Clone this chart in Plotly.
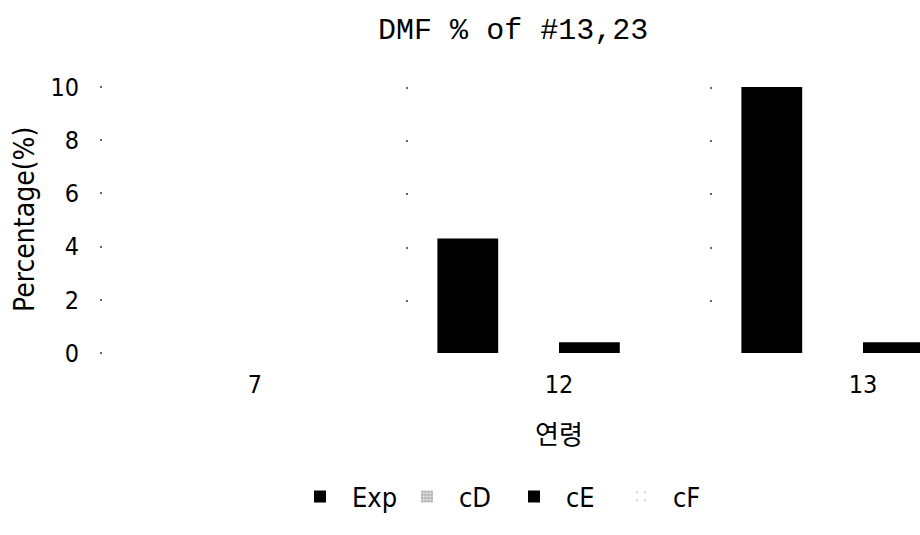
import plotly.graph_objects as go

# Age groups (연령) and DMF percentages per series (None = no bar drawn)
ages = ["7", "12", "13"]
exp_vals = [None, 4.3, 10.0]
cd_vals = [None, None, None]
ce_vals = [None, 0.4, 0.4]
cf_vals = [None, None, None]
y_ticks = [0, 2, 4, 6, 8, 10]

pos = list(range(len(ages)))
boundaries = [p + 0.5 for p in pos[:-1]]

sans = "DejaVu Sans Condensed, Liberation Sans, Arial"
tick_font = dict(family=sans, size=25, color="#000")

fig = go.Figure()
fig.add_trace(go.Bar(name="Exp", x=pos, y=exp_vals, marker=dict(color="#000", line=dict(width=0))))
fig.add_trace(go.Bar(name="cD", x=pos, y=cd_vals,
                     marker=dict(color="#fff", line=dict(width=0),
                                 pattern=dict(shape=".", fgcolor="#777", bgcolor="#ddd", size=4, solidity=0.5))))
fig.add_trace(go.Bar(name="cE", x=pos, y=ce_vals, marker=dict(color="#000", line=dict(width=0))))
fig.add_trace(go.Bar(name="cF", x=pos, y=cf_vals,
                     marker=dict(color="#fff", line=dict(width=0),
                                 pattern=dict(shape=".", fgcolor="#aaa", bgcolor="#fff", size=10, solidity=0.08))))

fig.update_layout(
    width=920, height=535,
    margin=dict(l=103, r=0, t=87, b=182, autoexpand=False),
    paper_bgcolor="#fff", plot_bgcolor="#fff",
    barmode="group", bargap=0.2, bargroupgap=0,
    title=dict(text="DMF % of #13,23", x=0.502, xref="paper", xanchor="center",
               y=0.947, yref="container", yanchor="middle",
               font=dict(family="Liberation Mono, DejaVu Sans Mono", size=30, color="#000")),
    xaxis=dict(range=[-0.5, 2.1875], tickvals=pos, ticktext=ages, showgrid=False,
               zeroline=False, showline=False, ticks="", tickfont=tick_font,
               ticklabelstandoff=14,
               minor=dict(tickvals=boundaries, showgrid=True, gridcolor="#666",
                          gridwidth=2, griddash="2px,51.2px", ticks="")),
    yaxis=dict(range=[0, 10], tickvals=y_ticks, showgrid=False, zeroline=False,
               showline=False, ticks="outside", ticklen=2, tickwidth=2, tickcolor="#666",
               tickfont=tick_font, ticklabelstandoff=16),
    legend=dict(orientation="h", x=288 / 920, xref="container", xanchor="left",
                y=-0.541, yanchor="middle",
                font=dict(family=sans, size=27, color="#000"),
                itemwidth=54, entrywidth=38, traceorder="normal"),
    annotations=[
        dict(text="연령", x=1, xref="x", y=-0.297, yref="paper",
             xanchor="center", yanchor="middle", showarrow=False,
             font=dict(family="Noto Sans CJK KR", size=26, color="#000")),
        dict(text="Percentage(%)", x=-0.0955, xref="paper", y=0.504, yref="paper",
             xanchor="center", yanchor="middle", textangle=-90, showarrow=False,
             font=dict(family=sans, size=28, color="#000")),
    ],
)

fig.write_html("out.html")
